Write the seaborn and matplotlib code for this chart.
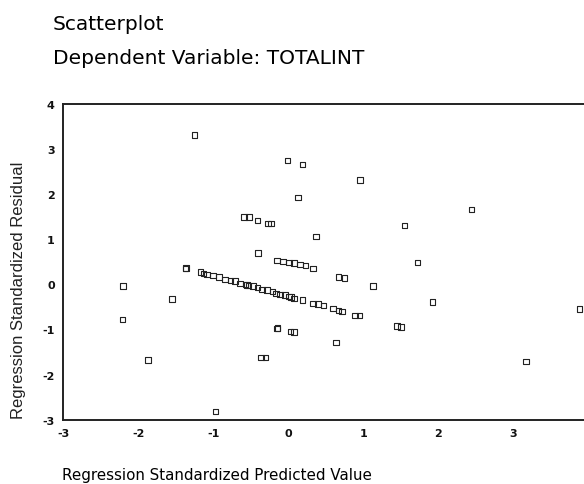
import pandas as pd
import matplotlib.pyplot as plt
import seaborn as sns

# Valores (residuo estandarizado vs valor predicho estandarizado)
pred_aislados = [-1.25, -0.01, 0.19, 0.96, 0.13, 2.44,
                 -0.59, -0.52, -0.41, -0.27, -0.23, 1.55, 0.37, -0.40, 1.72,
                 0.67, 0.75, 1.13, 1.92, 3.88, 3.17,
                 -2.20, -2.21, -1.87, -1.55, -1.37, -1.36, -0.97,
                 -0.36, -0.30, -0.15, -0.14, 0.03, 0.08, 0.64, 1.45, 1.50]
resid_aislados = [3.31, 2.75, 2.66, 2.31, 1.93, 1.66,
                  1.49, 1.49, 1.42, 1.35, 1.35, 1.31, 1.06, 0.69, 0.49,
                  0.16, 0.14, -0.04, -0.39, -0.55, -1.71,
                  -0.04, -0.78, -1.68, -0.33, 0.35, 0.36, -2.82,
                  -1.62, -1.62, -0.98, -0.97, -1.04, -1.05, -1.29, -0.92, -0.94]

pred_linea_sup = [-0.15, -0.07, 0.01, 0.08, 0.16, 0.23, 0.33]
resid_linea_sup = [0.53, 0.51, 0.49, 0.47, 0.44, 0.42, 0.35]

pred_linea = [-1.17, -1.13, -1.08, -1.00, -0.92, -0.84, -0.77, -0.71, -0.64,
              -0.57, -0.55, -0.53, -0.47, -0.41, -0.35, -0.28, -0.21, -0.16,
              -0.11, -0.04, 0.01, 0.04, 0.08, 0.19, 0.33, 0.40, 0.47, 0.60,
              0.67, 0.72, 0.89, 0.95]
resid_linea = [0.27, 0.24, 0.22, 0.20, 0.16, 0.11, 0.09, 0.07, 0.02,
               0.00, -0.01, -0.02, -0.04, -0.07, -0.11, -0.13, -0.16, -0.20,
               -0.22, -0.24, -0.27, -0.28, -0.31, -0.35, -0.42, -0.44, -0.47, -0.53,
               -0.58, -0.60, -0.69, -0.69]

x_ticks = [-3, -2, -1, 0, 1, 2, 3]
y_ticks = [-3, -2, -1, 0, 1, 2, 3, 4]


def build_data():
    """Junta los grupos de puntos en un solo DataFrame."""
    x = pred_aislados + pred_linea_sup + pred_linea
    y = resid_aislados + resid_linea_sup + resid_linea
    return pd.DataFrame({"pred": x, "resid": y})


def plot_residuals(df):
    sns.set_style("white")
    fig = plt.figure(figsize=(5.84, 4.85), dpi=100)
    # el eje derecho queda fuera de la imagen, como en el original
    ax = fig.add_axes([0.1079, 0.1326, 0.91, 0.6509])

    sns.scatterplot(data=df, x="pred", y="resid", ax=ax, marker="s", s=16,
                    facecolor="none", edgecolor="#222222", linewidth=0.8)

    ax.set_xlim(-3, 4.08)
    ax.set_ylim(-3, 4)
    ax.set_xticks(x_ticks)
    ax.set_yticks(y_ticks)
    ax.set_xticklabels([str(t) for t in x_ticks], fontsize=8, fontweight="bold", color="#111111")
    ax.set_yticklabels([str(t) for t in y_ticks], fontsize=8, fontweight="bold", color="#111111")
    ax.tick_params(axis="both", direction="out", length=4, width=2, color="#222222", pad=2)
    ax.set_xlabel("")
    ax.set_ylabel("")

    for side in ["left", "top", "bottom"]:
        ax.spines[side].set_color("#222222")
        ax.spines[side].set_linewidth(1.4)
    ax.spines["right"].set_visible(False)

    fig.text(53 / 584, 1 - 24 / 485, "Scatterplot", fontsize=14.5,
             family="DejaVu Sans", color="black", va="center", ha="left")
    fig.text(53 / 584, 1 - 59 / 485, "Dependent Variable: TOTALINT", fontsize=14.5,
             family="DejaVu Sans", color="black", va="center", ha="left")
    fig.text(19 / 584, 1 - 290 / 485, "Regression Standardized Residual", fontsize=12,
             family="Liberation Sans", color="#222222", rotation=90, va="center", ha="center")
    fig.text(62 / 584, 1 - 476 / 485, "Regression Standardized Predicted Value", fontsize=10.9,
             family="DejaVu Sans", color="black", va="center", ha="left")

    fig.savefig("out.png", dpi=100)


def main():
    df = build_data()
    plot_residuals(df)


if __name__ == "__main__":
    main()
